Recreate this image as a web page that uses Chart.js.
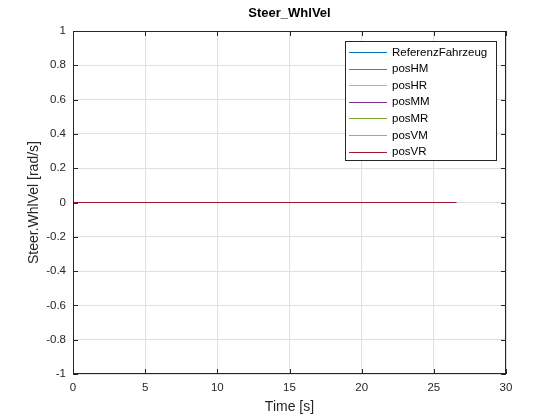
<!DOCTYPE html>
<html>
<head>
<meta charset="utf-8">
<script src="https://cdn.jsdelivr.net/npm/chart.js@4"></script>
<style>
  html, body { margin: 0; padding: 0; background: #fff; }
  #wrap { width: 560px; height: 420px; }
</style>
</head>
<body>
<div id="wrap"><canvas id="mycanvas" width="560" height="420"></canvas></div>
<script>
// time axis (s) and signal values - all series sit at zero
var timeVals = [0, 26.55];
var seriesNames = ['ReferenzFahrzeug', 'posHM', 'posHR', 'posMM', 'posMR', 'posVM', 'posVR'];
var seriesVals = [
  [0, 0],
  [0, 0],
  [0, 0],
  [0, 0],
  [0, 0],
  [0, 0],
  [0, 0]
];
var seriesColors = ['#0072BD', '#D95319', '#EDB120', '#7E2F8E', '#77AC30', '#4DBEEE', '#A2142F'];
var xTicks = [0, 5, 10, 15, 20, 25, 30];
var yTicks = [-1, -0.8, -0.6, -0.4, -0.2, 0, 0.2, 0.4, 0.6, 0.8, 1];

var FONT = 'Liberation Sans, Arial, Helvetica, sans-serif';

var datasets = [];
for (var s = 0; s < seriesNames.length; s++) {
  var pts = [];
  for (var i = 0; i < timeVals.length; i++) {
    pts.push({x: timeVals[i], y: seriesVals[s][i]});
  }
  datasets.push({
    label: seriesNames[s],
    data: pts,
    borderColor: seriesColors[s],
    borderWidth: 1,
    pointRadius: 0,
    fill: false,
    order: seriesNames.length - s // last series ends up on top, like matlab
  });
}

function fmt(v) { return String(Math.round(v * 10) / 10); }

// matlab-like frame, inward ticks, title, axis labels and legend
var matlabDeco = {
  id: 'matlabDeco',
  afterDraw: function(chart) {
    var c = chart.ctx, a = chart.chartArea;
    var xs = chart.scales.x, ys = chart.scales.y;
    c.save();
    c.strokeStyle = '#262626';
    c.lineWidth = 1;
    c.strokeRect(a.left + 0.5, a.top + 0.5, a.right - a.left - 1, a.bottom - a.top - 1);
    c.beginPath();
    xTicks.forEach(function(t) {
      var px = Math.round(xs.getPixelForValue(t)) + 0.5;
      c.moveTo(px, a.bottom); c.lineTo(px, a.bottom - 5);
      c.moveTo(px, a.top); c.lineTo(px, a.top + 5);
    });
    yTicks.forEach(function(t) {
      var py = Math.round(ys.getPixelForValue(t)) + 0.5;
      c.moveTo(a.left, py); c.lineTo(a.left + 5, py);
      c.moveTo(a.right, py); c.lineTo(a.right - 5, py);
    });
    c.stroke();

    // title
    c.fillStyle = '#000';
    c.font = 'bold 13px ' + FONT;
    c.textAlign = 'center';
    c.textBaseline = 'middle';
    c.fillText('Steer_WhlVel', (a.left + a.right) / 2, 13);

    // axis labels
    c.fillStyle = '#262626';
    c.font = '14px ' + FONT;
    c.fillText('Time [s]', (a.left + a.right) / 2, 407);
    c.save();
    c.translate(34, (a.top + a.bottom) / 2);
    c.rotate(-Math.PI / 2);
    c.fillText('Steer.WhlVel [rad/s]', 0, 0);
    c.restore();

    // legend box
    var lx = 345, ly = 41, lw = 151, lh = 119;
    c.fillStyle = '#fff';
    c.fillRect(lx, ly, lw, lh);
    c.strokeStyle = '#262626';
    c.strokeRect(lx + 0.5, ly + 0.5, lw, lh);
    c.font = '11.5px ' + FONT;
    c.textAlign = 'left';
    for (var s = 0; s < seriesNames.length; s++) {
      var yy = 52 + s * 16.6;
      c.fillStyle = seriesColors[s];
      c.fillRect(349, Math.round(yy), 38, 1);
      c.fillStyle = '#000';
      c.fillText(seriesNames[s], 392, yy + 0.5);
    }
    c.restore();
  }
};

var ctx = document.getElementById('mycanvas').getContext('2d');
var lineChart = new Chart(ctx, {
  type: 'line',
  data: { datasets: datasets },
  options: {
    responsive: false,
    animation: false,
    layout: { padding: { left: 0, top: 31, right: 54, bottom: 0 } },
    plugins: {
      legend: { display: false },
      title: { display: false },
      tooltip: { enabled: false }
    },
    scales: {
      x: {
        type: 'linear',
        min: 0, max: 30,
        afterBuildTicks: function(axis) { axis.ticks = xTicks.map(function(v) { return {value: v}; }); },
        afterFit: function(axis) { axis.height = 46; },
        grid: { color: '#dfdfdf', drawTicks: false },
        border: { display: false },
        ticks: { color: '#262626', font: { family: FONT, size: 11.5 }, padding: 7, maxRotation: 0, callback: fmt }
      },
      y: {
        min: -1, max: 1,
        afterBuildTicks: function(axis) { axis.ticks = yTicks.map(function(v) { return {value: v}; }); },
        afterFit: function(axis) { axis.width = 73; },
        grid: { color: '#dfdfdf', drawTicks: false },
        border: { display: false },
        ticks: { color: '#262626', font: { family: FONT, size: 11.5 }, padding: 7, callback: fmt }
      }
    }
  },
  plugins: [matlabDeco]
});
</script>
</body>
</html>
